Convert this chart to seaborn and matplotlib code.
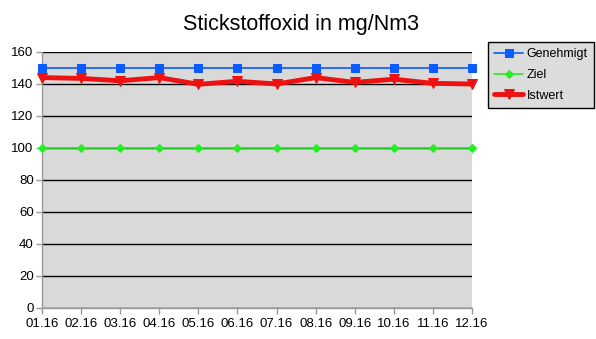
import matplotlib
matplotlib.use("Agg")
import matplotlib.pyplot as plt
import seaborn as sns
import pandas as pd

months = ["01.16", "02.16", "03.16", "04.16", "05.16", "06.16",
          "07.16", "08.16", "09.16", "10.16", "11.16", "12.16"]
genehmigt = [150] * 12
ziel = [100] * 12
istwert = [144, 143.5, 142, 144, 139.8, 141.7, 140, 144, 141, 143, 140.4, 140]

sns.set_theme(style="white")
plt.rcParams["font.family"] = ["Liberation Sans", "DejaVu Sans"]
plt.rcParams["text.color"] = "black"

df = pd.DataFrame({
    "pos": list(range(len(months))) * 3,
    "wert": genehmigt + ziel + istwert,
    "serie": ["Genehmigt"] * 12 + ["Ziel"] * 12 + ["Istwert"] * 12,
})

fig = plt.figure(figsize=(5.96, 3.39), dpi=100)
ax = fig.add_axes([42 / 596, 31 / 339, 430 / 596, 256 / 339])
ax.set_facecolor("#d9d9d9")

styles = {
    "Genehmigt": dict(color="#0a5cff", marker="s", lw=1.2, ms=6),
    "Ziel": dict(color="#22ee22", marker="D", lw=1.2, ms=4),
    "Istwert": dict(color="#ee1111", marker="v", lw=3.5, ms=7),
}
for name in ["Genehmigt", "Ziel", "Istwert"]:
    s = styles[name]
    sns.lineplot(data=df[df.serie == name], x="pos", y="wert", ax=ax,
                 color=s["color"], marker=s["marker"], linewidth=s["lw"],
                 markersize=s["ms"], markeredgecolor=s["color"],
                 label=name, clip_on=False, zorder=3)

ax.set_xlim(0, len(months) - 1)
ax.set_ylim(0, 160)
ax.set_yticks(range(0, 161, 20))
ax.set_xticks(range(len(months)))
ax.set_xticklabels(months)
ax.set_xlabel("")
ax.set_ylabel("")
ax.yaxis.grid(True, color="black", linewidth=1)
ax.set_axisbelow(True)
for sp in ["top", "right"]:
    ax.spines[sp].set_visible(False)
for sp in ["left", "bottom"]:
    ax.spines[sp].set_color("#999999")
    ax.spines[sp].set_linewidth(1)
ax.tick_params(axis="both", which="both", length=4, width=1, color="#999999",
               labelsize=9.5, labelcolor="black", direction="out",
               bottom=True, left=True, pad=2)
ax.tick_params(axis="x", pad=3.5)

fig.suptitle("Stickstoffoxid in mg/Nm3", x=301 / 596, y=1 - 14 / 339,
             fontsize=15.5, va="top", color="black")

leg = ax.legend(loc="upper left", bbox_to_anchor=(488 / 596, 1 - 42 / 339),
                bbox_transform=fig.transFigure, frameon=True, fancybox=False,
                fontsize=9, handlelength=2.3, borderpad=0.5,
                labelspacing=0.7, handletextpad=0.3, borderaxespad=0)
leg.get_frame().set_facecolor("#dcdcdc")
leg.get_frame().set_edgecolor("black")
leg.get_frame().set_linewidth(1)
leg.get_frame().set_alpha(1)
for t in leg.get_texts():
    t.set_color("black")

fig.savefig("out.png", dpi=100)
